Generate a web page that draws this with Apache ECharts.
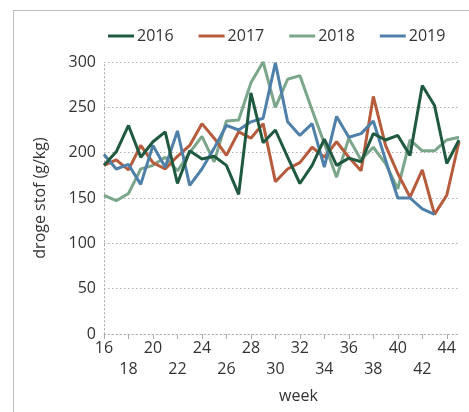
<!DOCTYPE html>
<html>
<head>
<meta charset="utf-8">
<script src="https://cdn.jsdelivr.net/npm/echarts@6/dist/echarts.min.js"></script>
<style>
  html, body { margin: 0; padding: 0; background: #fff; }
  #wrap { position: relative; width: 469px; height: 412px; }
  #frame { position: absolute; left: 13px; top: 10px; right: 0; bottom: 0; border-top: 1px solid #bdbdbd; border-left: 1px solid #bdbdbd; }
  #chart { position: absolute; left: 0; top: 0; width: 469px; height: 412px; }
</style>
</head>
<body>
<div id="wrap">
  <div id="frame"></div>
  <div id="chart"></div>
</div>
<script>
  // weken 16 t/m 45
  const weeks = ['16', '17', '18', '19', '20', '21', '22', '23', '24', '25', '26', '27', '28', '29', '30',
    '31', '32', '33', '34', '35', '36', '37', '38', '39', '40', '41', '42', '43', '44', '45']
  const years = ['2016', '2017', '2018', '2019']
  const colors = ['#1f5a40', '#b65b3c', '#7ba68a', '#4e80a9']

  const s2016 = [186, 201, 230, 195, 212, 223, 166, 202, 193, 196, 186, 154, 266, 211, 225,
    195, 166, 186, 215, 186, 194, 190, 221, 214, 219, 197, 274, 252, 188, 214]
  const s2017 = [186, 192, 181, 208, 189, 182, 196, 208, 232, 216, 197, 223, 216, 232, 168,
    182, 189, 206, 195, 212, 195, 180, 262, 208, 177, 151, 181, 132, 153, 212]
  const s2018 = [153, 147, 155, 182, 186, 195, 180, 200, 218, 190, 235, 236, 277, 300, 250,
    281, 285, 247, 210, 173, 216, 192, 206, 188, 160, 214, 202, 202, 214, 217]
  const s2019 = [198, 182, 187, 165, 208, 184, 224, 164, 182, 205, 230, 225, 234, 238, 299,
    234, 219, 232, 184, 240, 217, 221, 235, 192, 150, 150, 138, 132, null, null]

  const yTicks = [0, 50, 100, 150, 200, 250, 300]

  const chart = echarts.init(document.getElementById('chart'))
  const font = '"Open Sans", sans-serif'
  const dotted = { color: '#b0b0b0', width: 1, type: [1.5, 2.5] }

  chart.setOption({
    animation: false,
    textStyle: { fontFamily: font },
    color: colors,
    legend: {
      left: 103,
      top: 23,
      icon: 'rect',
      itemWidth: 26,
      itemHeight: 3,
      itemGap: 25,
      textStyle: { fontSize: 16, color: '#333', padding: [0, 0, 0, -2] },
      data: years
    },
    grid: { left: 104, right: 10, top: 62, bottom: 78, outerBoundsMode: 'none', containLabel: false },
    xAxis: {
      type: 'category',
      data: weeks,
      boundaryGap: false,
      name: 'week',
      nameLocation: 'middle',
      nameGap: 54,
      nameTextStyle: { fontSize: 16, color: '#333', padding: [0, 0, 0, 34] },
      axisLine: { show: true, lineStyle: dotted },
      axisTick: { show: true, interval: 1, length: 5, lineStyle: { color: '#aaa' } },
      axisLabel: {
        interval: 1,
        fontSize: 16,
        color: '#333',
        margin: 4,
        lineHeight: 21,
        formatter: function (v, i) {
          return (i % 4 === 0) ? v : '\n' + v
        }
      },
      splitLine: { show: false }
    },
    yAxis: {
      type: 'value',
      min: yTicks[0],
      max: yTicks[yTicks.length - 1],
      interval: 50,
      name: 'droge stof (g/kg)',
      nameLocation: 'middle',
      nameGap: 56,
      nameTextStyle: { fontSize: 16, color: '#333' },
      axisLine: { show: true, lineStyle: dotted },
      axisTick: { show: false },
      axisLabel: { fontSize: 16, color: '#333', margin: 8 },
      splitLine: { show: true, lineStyle: dotted }
    },
    series: [s2016, s2017, s2018, s2019].map(function (d, i) {
      return {
        name: years[i],
        type: 'line',
        data: d,
        symbol: 'none',
        connectNulls: false,
        z: [5, 3, 2, 4][i],
        lineStyle: { width: 3, color: colors[i] }
      }
    })
  })
</script>
</body>
</html>
